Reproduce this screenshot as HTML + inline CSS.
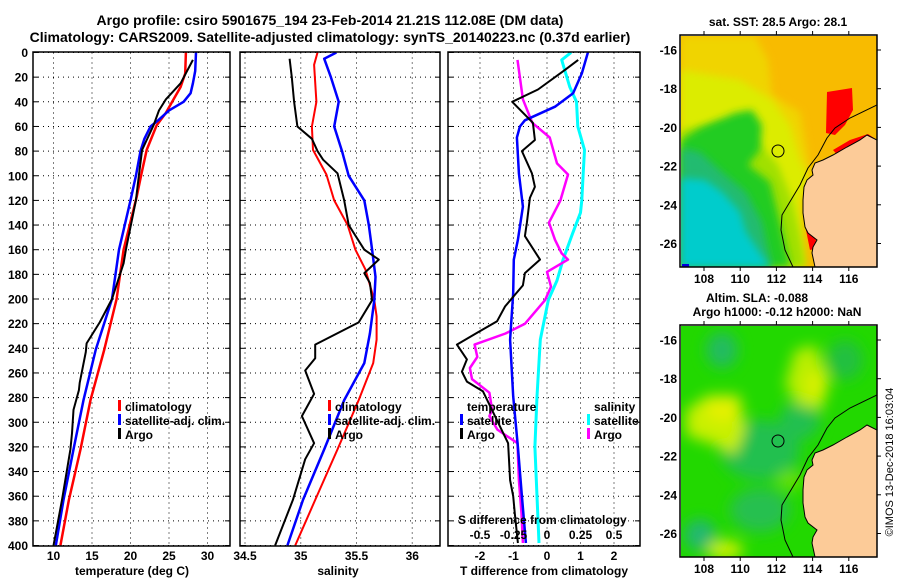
<!DOCTYPE html>
<html><head><meta charset="utf-8">
<style>
html,body{margin:0;padding:0;background:#fff;}
svg{display:block;font-family:"Liberation Sans",Arial,sans-serif;font-weight:bold;}
</style></head>
<body>
<svg id="fig" width="900" height="580" viewBox="0 0 900 580" xmlns="http://www.w3.org/2000/svg">
<defs>
<clipPath id="c1"><rect x="33" y="52" width="197" height="494"/></clipPath>
<clipPath id="c2"><rect x="240" y="52" width="200" height="494"/></clipPath>
<clipPath id="c3"><rect x="448" y="52" width="192" height="494"/></clipPath>
<clipPath id="m1"><rect x="681" y="36" width="196" height="231"/></clipPath>
<clipPath id="m2"><rect x="681" y="326" width="196" height="231"/></clipPath>
<filter id="bl" x="-20%" y="-20%" width="140%" height="140%"><feGaussianBlur stdDeviation="7"/></filter>
<filter id="bl2" x="-20%" y="-20%" width="140%" height="140%"><feGaussianBlur stdDeviation="4"/></filter>
</defs>
<text x="330" y="25" font-size="14" text-anchor="middle">Argo profile: csiro 5901675_194 23-Feb-2014 21.21S 112.08E (DM data)</text>
<text x="330" y="42" font-size="14" text-anchor="middle">Climatology: CARS2009. Satellite-adjusted climatology: synTS_20140223.nc (0.37d earlier)</text>
<g id="grids"></g>
<g id="series"></g>
<g id="frames"></g>
<g id="labels" font-size="12"></g>

<!-- legends -->
<g font-size="12">
<rect x="118" y="400" width="3" height="11" fill="#f00"/><text x="125" y="411">climatology</text>
<rect x="118" y="414" width="3" height="11" fill="#00f"/><text x="125" y="425">satellite-adj. clim.</text>
<rect x="118" y="428" width="3" height="11" fill="#000"/><text x="125" y="439">Argo</text>
</g>
<g font-size="12">
<rect x="328" y="400" width="3" height="11" fill="#f00"/><text x="335" y="411">climatology</text>
<rect x="328" y="414" width="3" height="11" fill="#00f"/><text x="335" y="425">satellite-adj. clim.</text>
<rect x="328" y="428" width="3" height="11" fill="#000"/><text x="335" y="439">Argo</text>
</g>
<g font-size="12">
<text x="467" y="411">temperature</text>
<rect x="460" y="414" width="3" height="11" fill="#00f"/><text x="467" y="425">satellite</text>
<rect x="460" y="428" width="3" height="11" fill="#000"/><text x="467" y="439">Argo</text>
<text x="594" y="411">salinity</text>
<rect x="587" y="414" width="3" height="11" fill="#0ff"/><text x="594" y="425">satellite</text>
<rect x="587" y="428" width="3" height="11" fill="#f0f"/><text x="594" y="439">Argo</text>
<text x="458" y="524">S difference from climatology</text>
</g>

<!-- top map: SST -->
<g clip-path="url(#m1)">
<rect x="681" y="36" width="196" height="231" fill="#f8bb00"/>
<polygon points="681,36 755,36 768,60 772,95 800,112 805,140 810,170 800,200 803,267 681,267" fill="#f0d400" filter="url(#bl2)"/>
<polygon points="681,70 740,80 772,100 790,125 800,160 808,175 800,205 803,267 681,267" fill="#dcec00" filter="url(#bl2)"/>
<polygon points="681,130 720,122 752,135 778,165 792,200 800,235 806,267 681,267" fill="#a0e000" filter="url(#bl2)"/>
<polygon points="681,140 700,128 735,113 752,110 762,125 760,150 748,165 770,182 782,230 790,267 681,267" fill="#22cc22" filter="url(#bl2)"/>
<polygon points="681,148 700,152 722,172 746,192 762,222 772,267 681,267" fill="#20bb70" filter="url(#bl2)"/>
<polygon points="681,178 705,180 722,192 740,212 746,232 762,256 770,267 681,267" fill="#00cccc" filter="url(#bl2)"/>
<polygon points="827,92 852,88 853,110 845,125 835,135 826,133" fill="#f00"/>
<polygon points="833,150 850,140 868,134 877,140 860,145 840,158" fill="#f00"/>
<polygon points="806,230 814,234 818,248 810,250" fill="#f00"/>
<rect x="682" y="264" width="7" height="3" fill="#0000dd"/>
<polygon points="877,140 867,135 860,140 847,147 833,155 823,160 815,163 812,170 813,175 807,180 804,187 803,200 803,213 805,227 808,233 817,240 813,247 812,253 815,267 877,267" fill="#fccb98" stroke="#000" stroke-width="1"/>
<polyline points="877,105 850,118 835,128 827,138 818,155 808,168 800,185 791,200 782,215 781,230 785,250 793,267" fill="none" stroke="#000" stroke-width="1"/>
<circle cx="778" cy="151" r="6" fill="none" stroke="#000" stroke-width="1"/>
</g>
<rect x="680" y="35" width="197" height="232" fill="none" stroke="#000" stroke-width="1.5"/>
<text x="778" y="26" font-size="12" text-anchor="middle">sat. SST: 28.5 Argo: 28.1</text>

<!-- bottom map: SLA -->
<g clip-path="url(#m2)">
<rect x="681" y="326" width="196" height="231" fill="#22d800"/>
<g filter="url(#bl)">
<ellipse cx="722" cy="350" rx="16" ry="18" fill="#20bb60"/>
<ellipse cx="760" cy="450" rx="40" ry="30" fill="#20c050"/>
<ellipse cx="700" cy="535" rx="16" ry="16" fill="#20b870"/>
<ellipse cx="760" cy="510" rx="30" ry="22" fill="#28c050"/>
<ellipse cx="845" cy="360" rx="18" ry="20" fill="#22c040"/>
<ellipse cx="800" cy="420" rx="20" ry="20" fill="#22c050"/>
<polygon points="686,410 708,395 740,395 745,430 735,455 715,445 686,435" fill="#c8f000"/>
<ellipse cx="722" cy="410" rx="16" ry="12" fill="#e4f000"/>
<polygon points="795,350 815,345 830,380 822,410 798,405 785,385" fill="#b8ee00"/>
<ellipse cx="815" cy="385" rx="10" ry="14" fill="#d8f000"/>
<ellipse cx="725" cy="550" rx="18" ry="10" fill="#c8f000"/>
<ellipse cx="790" cy="480" rx="14" ry="10" fill="#66e000"/>
</g>
<polygon points="877,430 867,425 860,430 847,437 833,445 823,450 815,453 812,460 813,465 807,470 804,477 803,490 803,503 805,517 808,523 817,530 813,537 812,543 815,557 877,557" fill="#fccb98" stroke="#000" stroke-width="1"/>
<polyline points="877,395 850,408 835,418 827,428 818,445 808,458 800,475 791,490 782,505 781,520 785,540 793,557" fill="none" stroke="#000" stroke-width="1"/>
<circle cx="778" cy="441" r="6" fill="none" stroke="#000" stroke-width="1"/>
</g>
<rect x="680" y="325" width="197" height="232" fill="none" stroke="#000" stroke-width="1.5"/>
<text x="757" y="302" font-size="12" text-anchor="middle">Altim. SLA: -0.088</text>
<text x="777" y="316" font-size="12" text-anchor="middle">Argo h1000: -0.12 h2000: NaN</text>
<g id="maplabels" font-size="12"></g>
<text transform="translate(893,462) rotate(-90)" font-size="11" font-weight="normal" text-anchor="middle">©IMOS 13-Dec-2018 16:03:04</text>

<script>
// ---- data ----
const tClimDepth=[0,17,28,38,49,59,79,99,117,160,200,241,282,322,363,400];
const tClimVal=[27.2,27.1,26.5,25.6,24.6,23.4,22.1,21.4,20.8,19.1,18.2,16.6,14.8,13.5,12.0,10.9];
const tSatDepth=[0,15,25,33,40,47,55,60,70,80,100,120,160,200,241,282,322,363,400];
const tSatVal=[28.5,28.4,28.1,27.8,26.9,25.0,23.6,22.6,21.8,21.3,20.7,20.0,18.5,17.6,15.5,13.9,12.6,11.3,10.3];
const tArgoDepth=[6,25,38,47,59,71,79,99,120,160,171,200,219,236,243,268,274,290,309,322,363,400];
const tArgoVal=[28.1,26.5,24.6,23.7,23.0,22.1,21.5,21.1,20.7,19.4,19.1,17.6,16.0,14.3,14.2,13.4,13.3,12.6,12.4,12.2,11.1,10.0];

const sClimDepth=[0,10,40,60,79,99,120,140,160,176,201,214,233,252,282,322,363,400];
const sClimVal=[35.15,35.12,35.14,35.10,35.11,35.23,35.30,35.42,35.49,35.58,35.66,35.68,35.68,35.65,35.52,35.33,35.13,34.95];
const sSatDepth=[0,5,20,40,60,80,100,120,140,160,182,201,228,252,282,322,363,400];
const sSatVal=[35.32,35.21,35.27,35.34,35.30,35.37,35.43,35.57,35.61,35.64,35.67,35.66,35.62,35.57,35.39,35.21,35.02,34.88];
const sArgoDepth=[5,20,40,60,70,80,87,98,120,140,160,168,179,187,201,219,237,248,258,277,295,317,330,363,400];
const sArgoVal=[34.90,34.92,34.94,34.97,35.10,35.15,35.20,35.33,35.39,35.43,35.57,35.70,35.57,35.62,35.64,35.52,35.13,35.13,35.04,35.12,35.01,35.12,35.04,34.93,34.77];

const dTArgoDepth=[6,14,30,40,57,71,80,98,109,118,138,149,168,179,189,206,218,227,237,249,259,267,275,317,347,360,374,398];
const dTArgoVal=[0.93,0.54,-0.27,-1.04,-0.42,-0.36,-0.75,-0.45,-0.36,-0.51,-0.60,-0.66,-0.21,-0.66,-0.72,-1.25,-1.49,-2.06,-2.69,-2.39,-2.54,-2.39,-1.91,-1.16,-1.10,-1.01,-0.96,-0.87];
const dTSatDepth=[0,17,33,44,55,60,69,98,125,152,168,195,233,279,320,360,398];
const dTSatVal=[1.22,1.04,0.78,0.24,-0.66,-0.81,-0.90,-0.84,-0.72,-0.87,-0.99,-1.01,-1.10,-1.01,-0.87,-0.75,-0.63];
const dSArgoDepth=[6,38,57,69,90,99,120,138,152,163,168,178,190,201,220,228,237,247,256,265,276,290,295,306,317,347,374,398];
const dSArgoVal=[-0.22,-0.18,-0.11,0.02,0.075,0.157,0.10,0.015,0.06,0.11,0.157,0,0.03,-0.015,-0.164,-0.31,-0.54,-0.52,-0.575,-0.56,-0.43,-0.41,-0.43,-0.37,-0.22,-0.21,-0.19,-0.18];
const dSSatDepth=[0,6,28,40,60,79,98,120,130,147,168,185,201,233,279,320,398];
const dSSatVal=[0.18,0.11,0.17,0.22,0.23,0.28,0.27,0.26,0.25,0.19,0.12,0.075,0.01,-0.05,-0.075,-0.09,-0.06];

const depthTicks=[0,20,40,60,80,100,120,140,160,180,200,220,240,260,280,300,320,340,360,380,400];
const tTicks=[10,15,20,25,30];
const sTicks=[34.5,35,35.5,36];
const sTickLabels=["34.5","35","35.5","36"];
const dTTicks=[-2,-1,0,1,2];
const dSTicks=[-0.5,-0.25,0,0.25,0.5];
const dSTickLabels=["-0.5","-0.25","0","0.25","0.5"];
const lonTicks=[108,110,112,114,116];
const latTicks=[-16,-18,-20,-22,-24,-26];

// ---- scales ----
const Y0=52.5, Y1=545.5;
function yD(d){return Y0+(d/400)*(Y1-Y0);}
function xT(t){return 53.5+(t-10)*7.7;}
function xS(s){return 245+(s-34.5)*111.5;}
function xDT(v){return 547+v*33.5;}
function xDS(v){return 547+v*134;}
function mapX(lon){return 704+(lon-108)*18.1;}
function mapY(lat,top){return top+(-16-lat)*19.35;}

const NS="http://www.w3.org/2000/svg";
function mk(tag,attrs,parent){const e=document.createElementNS(NS,tag);for(const k in attrs)e.setAttribute(k,attrs[k]);parent.appendChild(e);return e;}
const grids=document.getElementById('grids');
const series=document.getElementById('series');
const frames=document.getElementById('frames');
const labels=document.getElementById('labels');
const maplabels=document.getElementById('maplabels');

const panels=[
 {x0:33,x1:230,vt:tTicks,vl:tTicks.map(String),fx:xT,title:"temperature (deg C)",tx:132,clip:"c1",name:"temperature-panel"},
 {x0:240,x1:440,vt:sTicks,vl:sTickLabels,fx:xS,title:"salinity",tx:338,clip:"c2",name:"salinity-panel"},
 {x0:448,x1:640,vt:dTTicks,vl:dTTicks.map(String),fx:xDT,title:"T difference from climatology",tx:544,clip:"c3",name:"difference-panel"}
];
panels.forEach((p,pi)=>{
  depthTicks.forEach(d=>{
    const y=yD(d);
    const g=mk('line',{x1:p.x0,x2:p.x1,y1:y,y2:y,stroke:'#000','stroke-width':1,'stroke-dasharray':'1,4'},grids);
    
    
    mk('line',{x1:p.x0,x2:p.x0+5,y1:y,y2:y,stroke:'#000','stroke-width':1},grids);
    mk('line',{x1:p.x1-5,x2:p.x1,y1:y,y2:y,stroke:'#000','stroke-width':1},grids);
    if(pi===0){
      const t=mk('text',{x:28,y:y+4.5,'text-anchor':'end'},labels);
      t.textContent=String(d);
      
      
    }
  });
  p.vt.forEach((v,i)=>{
    const x=p.fx(v);
    const g=mk('line',{x1:x,x2:x,y1:Y0,y2:Y1,stroke:'#000','stroke-width':1,'stroke-dasharray':'1,4'},grids);
    
    
    const t=mk('text',{x:x,y:560,'text-anchor':'middle'},labels);
    t.textContent=p.vl[i];
    
    
  });
  const r=mk('rect',{x:p.x0,y:Y0-0.5,width:p.x1-p.x0,height:Y1-Y0+1,fill:'none',stroke:'#000','stroke-width':1.5},frames);
  
  
  const tt=mk('text',{x:p.tx,y:575,'text-anchor':'middle'},labels);
  tt.textContent=p.title;
  
  
});
// S diff tick labels
dSTicks.forEach((v,i)=>{
  const t=mk('text',{x:xDS(v),y:539,'text-anchor':'middle'},labels);
  t.textContent=dSTickLabels[i];
  
  
});

function drawLine(depths,vals,fx,color,w,clip,name){
  const pts=depths.map((d,i)=>fx(vals[i]).toFixed(1)+','+yD(d).toFixed(1)).join(' ');
  const l=mk('polyline',{points:pts,fill:'none',stroke:color,'stroke-width':w,'stroke-linejoin':'round','clip-path':'url(#'+clip+')'},series);
  
  
}
drawLine(tClimDepth,tClimVal,xT,'#f00',2.5,'c1','temperature-climatology-line');
drawLine(tSatDepth,tSatVal,xT,'#00f',2.5,'c1','temperature-satellite-line');
drawLine(tArgoDepth,tArgoVal,xT,'#000',2,'c1','temperature-argo-line');
drawLine(sClimDepth,sClimVal,xS,'#f00',2,'c2','salinity-climatology-line');
drawLine(sSatDepth,sSatVal,xS,'#00f',2.5,'c2','salinity-satellite-line');
drawLine(sArgoDepth,sArgoVal,xS,'#000',2,'c2','salinity-argo-line');
drawLine(dSSatDepth,dSSatVal,xDS,'#0ff',3,'c3','s-diff-satellite-line');
drawLine(dSArgoDepth,dSArgoVal,xDS,'#f0f',2.5,'c3','s-diff-argo-line');
drawLine(dTSatDepth,dTSatVal,xDT,'#00f',2.5,'c3','t-diff-satellite-line');
drawLine(dTArgoDepth,dTArgoVal,xDT,'#000',2,'c3','t-diff-argo-line');

// map axes
[35,325].forEach((top,mi)=>{
  const bottom=top+232;
  lonTicks.forEach(lon=>{
    const x=mapX(lon);
    mk('line',{x1:x,x2:x,y1:top,y2:top-4,stroke:'#000','stroke-width':1},maplabels);
    mk('line',{x1:x,x2:x,y1:bottom,y2:bottom+4,stroke:'#000','stroke-width':1},maplabels);
    const t=mk('text',{x:x,y:bottom+16,'text-anchor':'middle'},maplabels);
    t.textContent=String(lon);
    
    
  });
  latTicks.forEach(lat=>{
    const y=mapY(lat,top+15);
    mk('line',{x1:877,x2:881,y1:y,y2:y,stroke:'#000','stroke-width':1},maplabels);
    const t=mk('text',{x:677,y:y+4.5,'text-anchor':'end'},maplabels);
    t.textContent=String(lat);
    
    
  });
});
</script>
</svg>
</body></html>
